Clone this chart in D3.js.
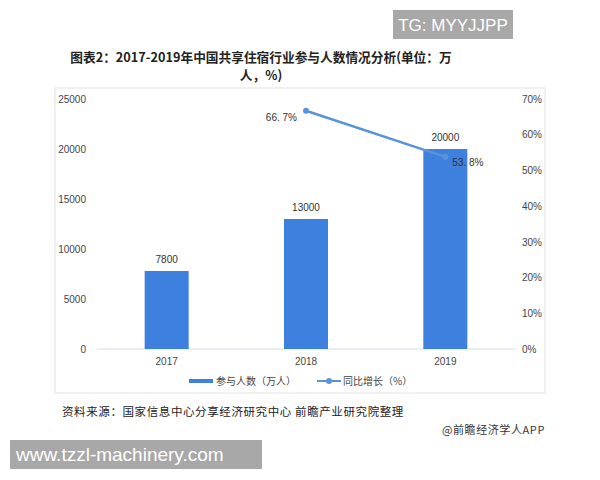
<!DOCTYPE html>
<html><head><meta charset="utf-8">
<script src="https://cdn.jsdelivr.net/npm/d3@7"></script>
<style>body{margin:0;background:#fff}svg{display:block}</style>
</head><body><svg id="c" width="600" height="480"></svg>
<script>
const categories = ["2017","2018","2019"];
const participants = [7800, 13000, 20000];
const growthYears = ["2018","2019"];
const growth = [66.7, 53.8];
const growthLabels = ["66. 7%","53. 8%"];
const leftTicks = [0,5000,10000,15000,20000,25000];
const rightTicks = [0,10,20,30,40,50,60,70];

const svg = d3.select("#c");
const font = "'Noto Sans CJK SC', 'Noto Sans', sans-serif";
const X0 = 97, X1 = 515, Y0 = 349, Y1 = 99;
const x = d3.scaleBand().domain(categories).range([X0, X1]).paddingInner(0.684).paddingOuter(0.342);
const yL = d3.scaleLinear().domain([0,25000]).range([Y0, Y1]);
const yR = d3.scaleLinear().domain([0,70]).range([Y0, Y1]);

// frame
svg.append("rect").attr("x",55).attr("y",88).attr("width",490).attr("height",305)
  .attr("fill","none").attr("stroke","#ececec").attr("stroke-width",1.5);

// title
svg.append("text").attr("x",261).attr("y",62).attr("text-anchor","middle")
  .attr("font-family",font).attr("font-weight","bold").attr("font-size",12.7).attr("fill","#222")
  .text("图表2：2017-2019年中国共享住宿行业参与人数情况分析(单位：万");
svg.append("text").attr("x",261).attr("y",80).attr("text-anchor","middle")
  .attr("font-family",font).attr("font-weight","bold").attr("font-size",12.7).attr("fill","#222")
  .text("人，%)");

// left axis labels
const gl = svg.append("g").attr("transform",`translate(${X0},0)`)
  .call(d3.axisLeft(yL).tickValues(leftTicks).tickSize(0).tickPadding(11).tickFormat(d3.format("d")));
gl.select(".domain").remove();
gl.selectAll("text").attr("font-family","Arial, 'Liberation Sans', sans-serif").attr("font-size",10).attr("fill","#444");

// right axis labels
const gr = svg.append("g").attr("transform",`translate(${X1},0)`)
  .call(d3.axisRight(yR).tickValues(rightTicks).tickSize(0).tickPadding(7).tickFormat(d => d + "%"));
gr.select(".domain").remove();
gr.selectAll("text").attr("font-family","Arial, 'Liberation Sans', sans-serif").attr("font-size",10).attr("fill","#444");

// baseline
svg.append("line").attr("x1",X0).attr("x2",X1).attr("y1",Y0).attr("y2",Y0).attr("stroke","#d5dbe3").attr("stroke-width",1);

// x axis labels
const gx = svg.append("g").attr("transform",`translate(0,${Y0})`)
  .call(d3.axisBottom(x).tickSize(0).tickPadding(9));
gx.select(".domain").remove();
gx.selectAll("text").attr("font-family","Arial, 'Liberation Sans', sans-serif").attr("font-size",10).attr("fill","#444");

// bars
svg.selectAll(".bar").data(categories).enter().append("rect")
  .attr("x", d => x(d)).attr("width", x.bandwidth())
  .attr("y", (d,i) => yL(participants[i])).attr("height", (d,i) => Y0 - yL(participants[i]))
  .attr("fill","#3e80de");
svg.selectAll(".bl").data(categories).enter().append("text")
  .attr("x", d => x(d) + x.bandwidth()/2).attr("y", (d,i) => yL(participants[i]) - 8)
  .attr("text-anchor","middle").attr("font-family","Arial, 'Liberation Sans', sans-serif")
  .attr("font-size",10).attr("fill","#333").text((d,i) => participants[i]);

// line
const cx = d => x(d) + x.bandwidth()/2;
const pts = growthYears.map((d,i) => [cx(d), yR(growth[i])]);
svg.append("path").attr("d", d3.line()(pts)).attr("fill","none").attr("stroke","#5b93d9").attr("stroke-width",2.5);
svg.selectAll(".pt").data(pts).enter().append("circle")
  .attr("cx", d => d[0]).attr("cy", d => d[1]).attr("r",3).attr("fill","#5b93d9");
svg.append("text").attr("x", pts[0][0] - 9).attr("y", pts[0][1] + 10).attr("text-anchor","end")
  .attr("font-family","Arial, 'Liberation Sans', sans-serif").attr("font-size",10).attr("fill","#333").text(growthLabels[0]);
svg.append("text").attr("x", pts[1][0] + 7).attr("y", pts[1][1] + 9).attr("text-anchor","start")
  .attr("font-family","Arial, 'Liberation Sans', sans-serif").attr("font-size",10).attr("fill","#333").text(growthLabels[1]);

// legend
svg.append("rect").attr("x",189).attr("y",379).attr("width",24).attr("height",4).attr("fill","#3e80de");
svg.append("text").attr("x",216).attr("y",385).attr("font-family",font).attr("font-size",10).attr("fill","#444").text("参与人数（万人）");
svg.append("line").attr("x1",317).attr("x2",341).attr("y1",381).attr("y2",381).attr("stroke","#5b93d9").attr("stroke-width",2);
svg.append("circle").attr("cx",329).attr("cy",381).attr("r",3).attr("fill","#5b93d9");
svg.append("text").attr("x",343).attr("y",385).attr("font-family",font).attr("font-size",10).attr("fill","#444").text("同比增长（%）");

// source
svg.append("text").attr("x",62).attr("y",416).attr("font-family",font).attr("font-size",11.5).attr("fill","#222")
  .attr("letter-spacing",0.6).text("资料来源：国家信息中心分享经济研究中心 前瞻产业研究院整理");
svg.append("text").attr("x",545).attr("y",434).attr("text-anchor","end").attr("font-family",font).attr("font-size",11).attr("fill","#333")
  .attr("letter-spacing",0.6).text("@前瞻经济学人APP");

// watermark boxes
svg.append("rect").attr("x",393).attr("y",10).attr("width",120).attr("height",29).attr("fill","#a8a8a8");
svg.append("text").attr("x",453).attr("y",31).attr("text-anchor","middle").attr("font-family","Arial, 'Liberation Sans', sans-serif")
  .attr("font-size",17).attr("fill","#fff").text("TG: MYYJJPP");
svg.append("rect").attr("x",10).attr("y",440).attr("width",252).attr("height",29).attr("fill","#a8a8a8");
svg.append("text").attr("x",16).attr("y",461).attr("font-family","Arial, 'Liberation Sans', sans-serif")
  .attr("font-size",19).attr("fill","#fff").text("www.tzzl-machinery.com");
</script></body></html>
